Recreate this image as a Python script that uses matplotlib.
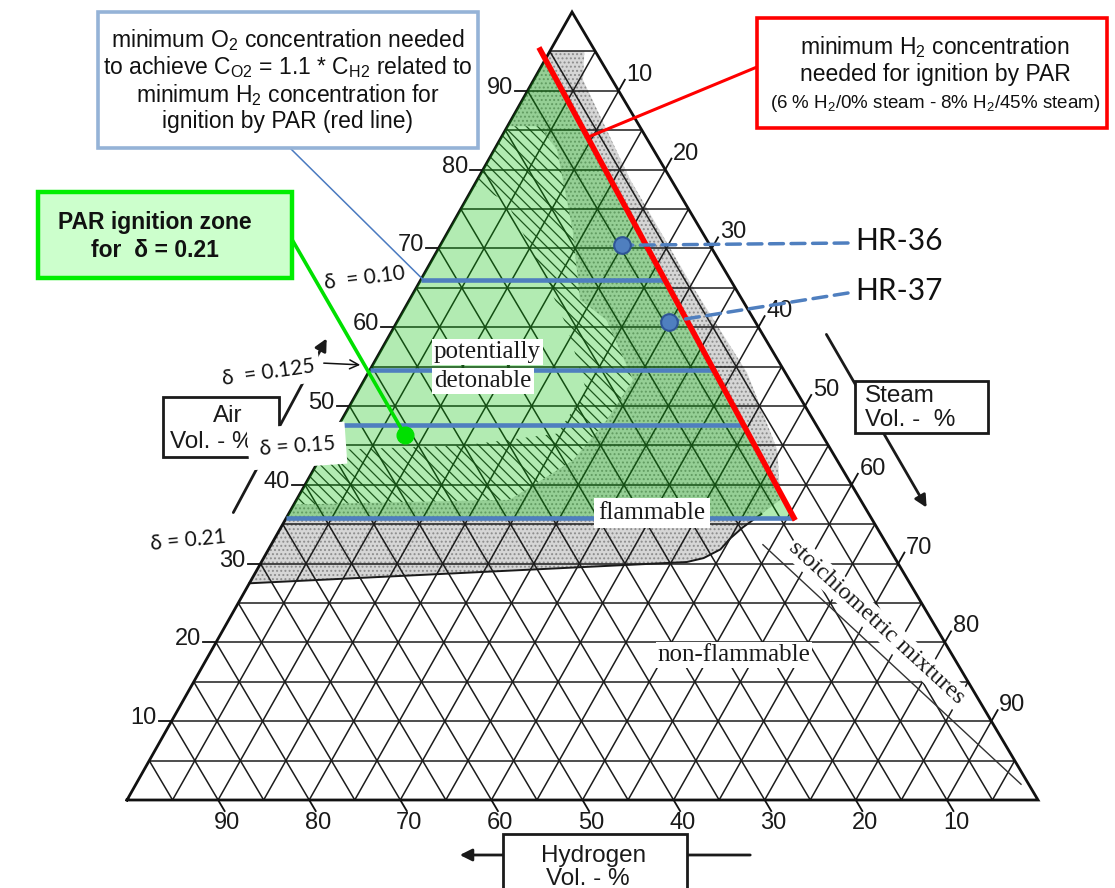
import numpy as np
import matplotlib
matplotlib.use("Agg")
import matplotlib.pyplot as plt
from matplotlib.patches import Polygon, Rectangle

plt.rcParams['mathtext.fontset'] = 'custom'
plt.rcParams['mathtext.rm'] = 'Liberation Sans'
plt.rcParams['mathtext.it'] = 'Liberation Sans'
plt.rcParams['mathtext.bf'] = 'Liberation Sans:bold'
plt.rcParams['hatch.linewidth'] = 0.9

# ---------------- data ----------------
axis_ticks = [10, 20, 30, 40, 50, 60, 70, 80, 90]
grid_values = list(range(5, 100, 5))

# flammable (stippled) region boundary: H2 % / air %
flam_h2 = [5.0, 1.2, 3.2, 4.5, 4.6, 4.2, 5.9, 8.8, 11.8, 14.7, 16.8, 18.6, 21.0, 23.1, 72.5]
flam_air = [95.0, 95.0, 91.4, 78.7, 66.0, 54.2, 44.4, 38.1, 36.3, 34.6, 33.2, 31.8, 30.7, 30.2, 27.5]
# drawn lower boundary of the flammable region
flam_line_h2 = [11.8, 14.7, 16.8, 18.6, 21.0, 23.1, 72.5]
flam_line_air = [36.3, 34.6, 33.2, 31.8, 30.7, 30.2, 27.5]

# potentially detonable (hatched) region boundary
det_h2 = [14.5, 11.0, 10.6, 14.1, 17.8, 16.2, 17.2, 22.7, 29.0, 38.5, 62.5]
det_air = [85.5, 85.5, 82.5, 72.3, 63.5, 60.9, 53.3, 48.2, 43.1, 38.1, 37.5]
# inner part of the detonable region drawn without hatching
det_in_h2 = [22.0, 19.5, 20.0, 21.0, 23.0, 29.0, 40.0, 55.6]
det_in_air = [78.0, 76.0, 68.0, 60.0, 52.0, 46.5, 45.0, 44.4]

# stoichiometric H2 fraction in H2/air mixture (%), shown range of air %
stoich_h2_in_air = 29.6
stoich_air_range = [32.4, 2.0]

# minimum H2 for ignition by PAR (red line): 6 % H2/0 % steam - 8 % H2/45 % steam
red_h2 = [6.0, 8.0]
red_steam = [0.0, 45.0]
red_air_range = [95.5, 35.5]

# delta levels (air %, labels)
delta_labels = ["δ  = 0.10", "δ  = 0.125", "δ = 0.15", "δ = 0.21"]
delta_air = [66.0, 54.6, 47.6, 35.8]

# test points
hr_names = ["HR-36", "HR-37"]
hr_h2 = [9.6, 9.5]
hr_steam = [20.0, 29.8]

# PAR ignition zone marker
par_h2 = 45.8
par_steam = 7.9

# ---------------- helpers ----------------
SKEW = 0.4885


def txy(h2, steam):
    """ternary (H2, steam) -> cartesian; air = 100 - H2 - steam"""
    h2 = np.asarray(h2, float)
    steam = np.asarray(steam, float)
    air = 100.0 - h2 - steam
    return steam + SKEW * air, air


def txy_a(h2, air):
    h2 = np.asarray(h2, float)
    air = np.asarray(air, float)
    return txy(h2, 100.0 - h2 - air)


def red_at(air):
    a0 = 100 - red_h2[0] - red_steam[0]
    a1 = 100 - red_h2[1] - red_steam[1]
    t = (np.asarray(air, float) - a0) / (a1 - a0)
    return red_h2[0] + t * (red_h2[1] - red_h2[0])


fig = plt.figure(figsize=(11.15, 8.88), dpi=100)
ax = fig.add_axes([0, 0, 1, 1])
ax.set_xlim(-13.941, 108.452)
ax.set_ylim(-11.168, 101.523)
ax.axis('off')

ov = fig.add_axes([0, 0, 1, 1], zorder=5)
ov.set_xlim(0, 1115)
ov.set_ylim(888, 0)
ov.axis('off')
ov.patch.set_alpha(0)

# ---------------- regions ----------------
fx, fy = txy_a(flam_h2, flam_air)
ax.add_patch(Polygon(np.c_[fx, fy], closed=True, facecolor='#d6d6d6',
                     edgecolor='#8c8c8c', lw=0, hatch='....', zorder=1))
lx, ly = txy_a(flam_line_h2, flam_line_air)
ax.plot(lx, ly, color='#1a1a1a', lw=1.4, zorder=3)

dx, dy = txy_a(det_h2, det_air)
ax.add_patch(Polygon(np.c_[dx, dy], closed=True, facecolor='white',
                     edgecolor='#2a2a2a', lw=0, hatch='\\\\\\', zorder=2))
ix, iy = txy_a(det_in_h2, det_in_air)
ax.add_patch(Polygon(np.c_[ix, iy], closed=True, facecolor='white',
                     edgecolor='none', lw=0, zorder=2.1))

# ---------------- grid ----------------
gkw = dict(color='#1c1c1c', lw=1.1, zorder=3, solid_capstyle='butt')
for v in grid_values:
    x, y = txy_a([100 - v, 0], [v, v])          # constant air
    ax.plot(x, y, **gkw)
    x, y = txy([v, v], [100 - v, 0])            # constant H2
    ax.plot(x, y, **gkw)
    x, y = txy([100 - v, 0], [v, v])            # constant steam
    ax.plot(x, y, **gkw)

x, y = txy([100, 0, 0, 100], [0, 100, 0, 0])
ax.plot(x, y, color='#111111', lw=2.0, zorder=3, solid_joinstyle='miter')

# ticks and tick labels
tkw = dict(color='#111111', lw=1.3, zorder=3)
lab = dict(fontsize=17, family='Liberation Sans', color='#1a1a1a',
           textcoords='offset pixels', ha='center', va='center')
EXT = 1.4
for v in axis_ticks:
    x0, y0 = txy(100 - v, 0)                     # air (left)
    ax.plot([x0, x0 - EXT], [y0, y0], **tkw)
    ax.annotate(str(v), (x0, y0), xytext=(-28, 3), **lab)
    x0, y0 = txy(v, 100 - v)                     # hydrogen (bottom)
    x1, y1 = txy(v, 100 - v + EXT)
    ax.plot([x0, x1], [y0, y1], **tkw)
    ax.annotate(str(v), (x0, y0), xytext=(9, -23), **lab)
    x0, y0 = txy(0, v)                           # steam (right)
    x1, y1 = txy(-EXT, v)
    ax.plot([x0, x1], [y0, y1], **tkw)
    ax.annotate(str(v), (x0, y0), xytext=(21, 16), **lab)

# stoichiometric line
sa = np.array(stoich_air_range)
sx, sy = txy_a(sa * stoich_h2_in_air / (100 - stoich_h2_in_air), sa)
ax.plot(sx, sy, color='#333333', lw=1.0, zorder=3)

# region texts
serif = dict(family='Liberation Serif', color='#1a1a1a', zorder=4, ha='center', va='center')
wb = dict(facecolor='white', edgecolor='none', pad=1.5)
ov.text(487, 352, "potentially", fontsize=18, bbox=wb, **serif)
ov.text(483, 381, "detonable", fontsize=18, bbox=wb, **serif)
ov.text(652, 513, "flammable", fontsize=18,
        bbox=dict(facecolor='white', edgecolor='none', pad=3), **serif)
ov.text(734, 655, "non-flammable", fontsize=18, bbox=wb, **serif)
ov.text(877, 623, "stoichiometric mixtures", fontsize=17.5,
        rotation=-42.5, rotation_mode='anchor', bbox=wb, **serif)

# ---------------- overlays ----------------
ra = np.array(red_air_range)
g_air_top = 100 - red_h2[0] - red_steam[0]
gx1, gy1 = txy([100 - g_air_top, 100 - delta_air[-1]], [0, 0])
gx2, gy2 = txy_a([red_at(delta_air[-1]), red_at(g_air_top)], [delta_air[-1], g_air_top])
ax.add_patch(Polygon(np.r_[np.c_[gx1, gy1], np.c_[gx2, gy2]], closed=True,
                     facecolor='#00c000', alpha=0.3, edgecolor='none', zorder=5))

for a in delta_air:
    bx, by = txy_a([100 - a, red_at(a)], [a, a])
    ax.plot(bx, by, color='#4f7fbf', lw=3.3, zorder=6, solid_capstyle='butt')

rx, ry = txy_a(red_at(ra), ra)
ax.plot(rx, ry, color='#ff0000', lw=4.0, zorder=7, solid_capstyle='butt')

for name, h, s, ty in zip(hr_names, hr_h2, hr_steam, [243, 293]):
    px, py = txy(h, s)
    ax.annotate('', xy=(px, py), xytext=(848, ty), textcoords=ov.transData,
                arrowprops=dict(arrowstyle='-', color='#4f7fbf', lw=2.5,
                                linestyle=(0, (4, 2.2)), shrinkA=0, shrinkB=0), zorder=8)
    ax.plot(px, py, 'o', ms=12, mfc='#4f7fbf', mec='#2f5597', mew=1.5, zorder=9)
    ov.text(855, ty - 2, name, fontsize=21.5, family='Lato', ha='left', va='center', color='#111111')

px, py = txy(par_h2, par_steam)
ax.annotate('', xy=(px, py), xytext=(290, 236), textcoords=ov.transData,
            arrowprops=dict(arrowstyle='-', color='#00e000', lw=2.6, shrinkA=0, shrinkB=0), zorder=8)
ax.plot(px, py, 'o', ms=12, mfc='#00e000', mec='#00e000', zorder=9)

bx, by = txy_a(100 - delta_air[0] - 0.3, delta_air[0])
ax.annotate('', xy=(bx, by), xytext=(290, 148), textcoords=ov.transData,
            arrowprops=dict(arrowstyle='-', color='#4a7ac0', lw=1.1, shrinkA=0, shrinkB=0), zorder=8)

ca = 84.1
cx, cy = txy_a(red_at(ca), ca)
ax.annotate('', xy=(cx, cy), xytext=(757, 67), textcoords=ov.transData,
            arrowprops=dict(arrowstyle='-', color='#ff0000', lw=2.2, shrinkA=0, shrinkB=0), zorder=8)

# ---------------- annotation boxes ----------------
ov.add_patch(Rectangle((98, 12), 380, 136, facecolor='white', edgecolor='#95b3d7', lw=2.6, zorder=10))
sans = dict(family='Liberation Sans', color='#111111', ha='center', va='center', zorder=11)
blue_lines = ["minimum O$_\\mathrm{2}$ concentration needed",
              "to achieve C$_\\mathrm{O2}$ = 1.1 * C$_\\mathrm{H2}$ related to",
              "minimum H$_\\mathrm{2}$ concentration for",
              "ignition by PAR (red line)"]
for i, t in enumerate(blue_lines):
    ov.text(288, 40 + 27.3 * i, t, fontsize=16.5, **sans)

ov.add_patch(Rectangle((757, 18), 350, 110, facecolor='white', edgecolor='#ff0000', lw=2.6, zorder=10))
ov.text(935, 47, "minimum H$_\\mathrm{2}$ concentration", fontsize=16.5, **sans)
ov.text(935, 75, "needed for ignition by PAR", fontsize=16.5, **sans)
ov.text(935, 104, "(6 % H$_\\mathrm{2}$/0% steam - 8% H$_\\mathrm{2}$/45% steam)", fontsize=13.5, **sans)

ov.add_patch(Rectangle((38, 192), 254, 86, facecolor='#ccffcc', edgecolor='#00ee00', lw=3.2, zorder=10))
ov.text(155, 222, "PAR ignition zone", fontsize=16.5, fontweight='bold', **sans)
ov.text(155, 250, "for  δ = 0.21", fontsize=16.5, fontweight='bold', **sans)

# delta labels
dl = dict(family='Lato', color='#111111', ha='center', va='center', zorder=9)
ov.text(365, 278, delta_labels[0], fontsize=15, rotation=7, **dl)
ov.text(268, 373, delta_labels[1], fontsize=15, rotation=8,
        bbox=dict(facecolor='white', edgecolor='none', pad=4), **dl)
ov.annotate('', xy=(363, 365), xytext=(321, 363),
            arrowprops=dict(arrowstyle='->', color='#111111', lw=1.1, mutation_scale=16), zorder=9)
ov.text(297, 446, delta_labels[2], fontsize=15, rotation=4,
        bbox=dict(facecolor='white', edgecolor='none', pad=8), **dl)
ov.text(188, 540, delta_labels[3], fontsize=15, rotation=5.5, **dl)

# axis title boxes
ak = dict(family='Liberation Sans', color='#1a1a1a', zorder=7)
ov.annotate('', xy=(328, 336), xytext=(232, 515),
            arrowprops=dict(arrowstyle='-|>', color='#1a1a1a', lw=2.0, mutation_scale=18), zorder=6)
ov.add_patch(Rectangle((163, 397), 116, 60, facecolor='white', edgecolor='#1a1a1a', lw=2.0, zorder=7))
ov.text(228, 416, "Air", fontsize=17.5, ha='center', va='center', **ak)
ov.text(212, 442, "Vol. - %", fontsize=17.5, ha='center', va='center', **ak)

ov.annotate('', xy=(928, 510), xytext=(825, 332),
            arrowprops=dict(arrowstyle='-|>', color='#1a1a1a', lw=2.0, mutation_scale=18), zorder=6)
ov.add_patch(Rectangle((855, 381), 133, 52, facecolor='white', edgecolor='#1a1a1a', lw=2.0, zorder=7))
ov.text(865, 396, "Steam", fontsize=17.5, ha='left', va='center', **ak)
ov.text(865, 420, "Vol. -  %", fontsize=17.5, ha='left', va='center', **ak)

ov.annotate('', xy=(457, 855), xytext=(753, 855),
            arrowprops=dict(arrowstyle='-|>', color='#1a1a1a', lw=2.0, mutation_scale=18), zorder=6)
ov.add_patch(Rectangle((503, 834), 184, 60, facecolor='white', edgecolor='#1a1a1a', lw=2.0, zorder=7))
ov.text(594, 856, "Hydrogen", fontsize=17.5, ha='center', va='center', **ak)
ov.text(588, 879, "Vol. - %", fontsize=17.5, ha='center', va='center', **ak)

fig.savefig("out.png", dpi=100)
